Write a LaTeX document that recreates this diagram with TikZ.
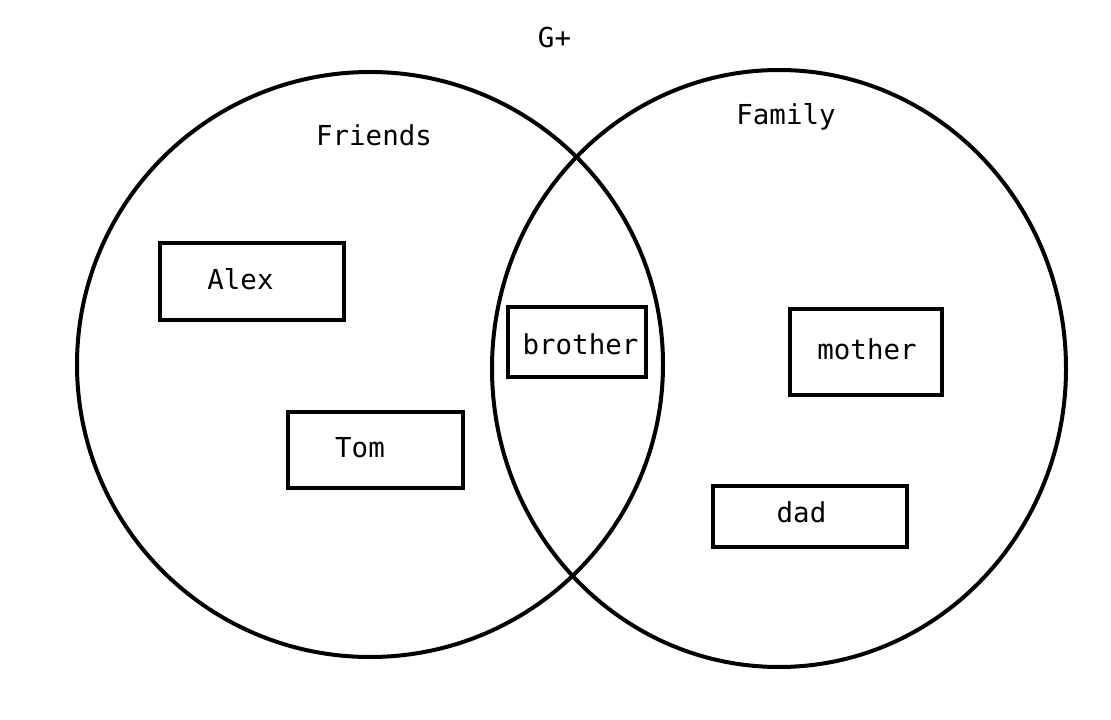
\documentclass[tikz,border=0pt]{standalone}
\usepackage{fontspec}
\setmonofont{DejaVu Sans Mono}
\usepackage{tikz}
\usetikzlibrary{shapes.geometric, positioning}

\begin{document}
\begin{tikzpicture}[x=0.75pt,y=-0.75pt,
                    set node/.style={ellipse,draw,line width=3pt,inner sep=0pt},
                    box node/.style={rectangle,draw,line width=3pt,inner sep=0pt},
                    name node/.style={anchor=base,inner sep=0pt,font=\ttfamily\fontsize{20.6}{24}\selectfont}]

  \useasboundingbox (0,0) rectangle (1111,720);

  % the two sets
  \node[set node,minimum width=439.5pt,minimum height=438.75pt] (friends) at (370,364.5) {};
  \node[set node,minimum width=430.5pt,minimum height=447.75pt] (family) at (779,368.5) {};

  % boxes
  \node[box node,minimum width=138pt,minimum height=57.75pt] (alexbox) at (252,281.5) {};
  \node[box node,minimum width=131.25pt,minimum height=57pt] (tombox) at (375.5,450) {};
  \node[box node,minimum width=103.5pt,minimum height=52.5pt] (brotherbox) at (577,342) {};
  \node[box node,minimum width=114pt,minimum height=64.5pt] (motherbox) at (866,352) {};
  \node[box node,minimum width=145.5pt,minimum height=45.75pt] (dadbox) at (810,516.5) {};

  % texts
  \node[name node] (gplus) at (554.5,47.5) {G+};
  \node[name node] (friendslabel) at (374,145.7) {Friends};
  \node[name node] (familylabel) at (786,125) {Family};
  \node[name node] (alex) at (240.5,290) {Alex};
  \node[name node] (tom) at (360,457) {Tom};
  \node[name node] (brother) at (580.5,355) {brother};
  \node[name node] (mother) at (867,360) {mother};
  \node[name node] (dad) at (801.5,522) {dad};
\end{tikzpicture}
\end{document}
